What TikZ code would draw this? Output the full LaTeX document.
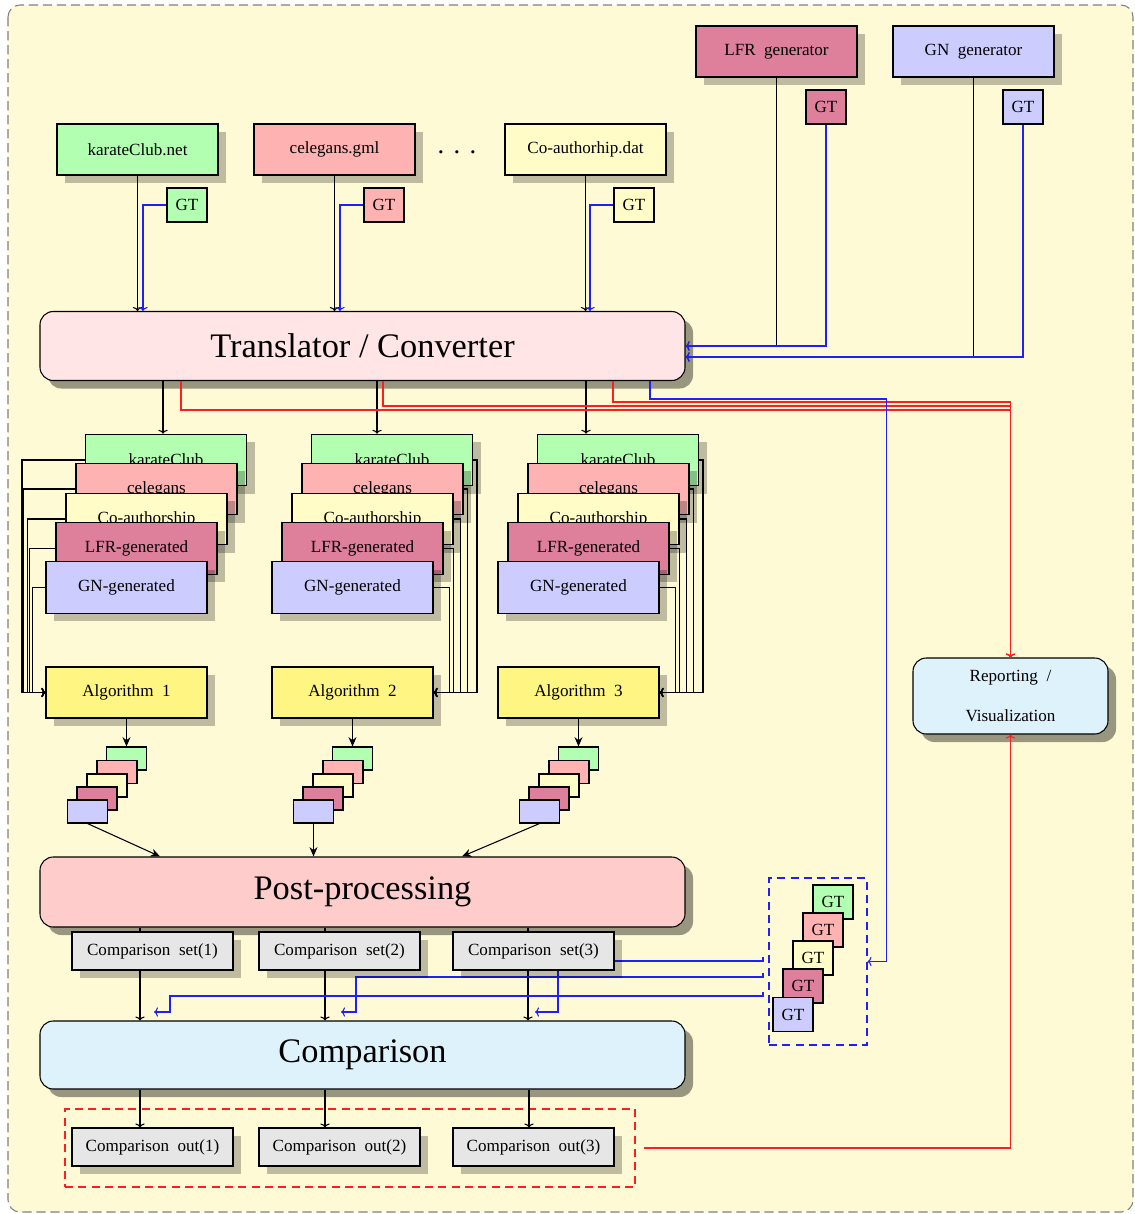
\documentclass[tikz,border=0pt]{standalone}
\usepackage{fontspec}
\setmainfont{Liberation Serif}
\usetikzlibrary{shadows,arrows.meta}
\definecolor{bgc}{RGB}{255,250,214}
\definecolor{cgreen}{RGB}{178,255,178}
\definecolor{cpink}{RGB}{255,178,178}
\definecolor{cyel}{RGB}{255,252,200}
\definecolor{cpurp}{RGB}{222,128,156}
\definecolor{cblue}{RGB}{204,204,255}
\definecolor{calg}{RGB}{255,245,130}
\definecolor{ctrans}{RGB}{255,229,229}
\definecolor{cpp}{RGB}{255,204,204}
\definecolor{ccmp}{RGB}{222,242,252}
\definecolor{cset}{RGB}{230,230,230}
\definecolor{lblue}{RGB}{30,30,255}
\definecolor{lred}{RGB}{255,30,30}
\newcommand\fsmall{\fontsize{12.8}{15}\selectfont}
\newcommand\fbig{\fontsize{25.8}{30}\selectfont}
\pgfdeclarelayer{back}
\pgfdeclarelayer{lines}
\pgfsetlayers{back,lines,main}
\tikzset{
  >={To[length=3pt,width=7pt]},
  box/.style={draw, line width=0.8pt, inner sep=0pt, font=\fsmall},
  shad/.style={drop shadow={shadow xshift=6pt, shadow yshift=-6pt, fill=black, opacity=0.25}},
  bigshad/.style={drop shadow={shadow xshift=6pt, shadow yshift=-6pt, fill=black, opacity=0.4}},
  srcbox/.style={box, shad, minimum width=120.75pt, minimum height=38.25pt},
  gtbox/.style={box, minimum width=30pt, minimum height=25.5pt},
  stackbox/.style={box, shad, minimum width=120.75pt, minimum height=38.6pt},
  resbox/.style={box, minimum width=30pt, minimum height=17.25pt},
  setbox/.style={box, shad, fill=cset, minimum width=120.75pt, minimum height=28.5pt},
  bigbox/.style={draw, line width=0.8pt, rounded corners=10pt, bigshad, inner sep=0pt,
     minimum width=483.75pt, minimum height=51pt, font=\fbig},
  conn/.style={line width=0.8pt},
  bl/.style={draw=lblue},
  rd/.style={draw=lred},
  algconn/.style={line width=1pt, ->},
  st/.style={-{Stealth[length=7pt,width=6pt]}},
}
\begin{document}
\begin{tikzpicture}[x=0.75pt, y=-0.75pt]
\useasboundingbox (0,0) rectangle (1135,1214);
\begin{pgfonlayer}{back}
\draw[gray, line width=0.8pt, dash pattern=on 7pt off 3.5pt, fill=bgc, rounded corners=9pt]
  (8,5) rectangle (1133,1212);
\end{pgfonlayer}

% sources
\node[srcbox, fill=cgreen] (karate) at (137.5,149.5) {karateClub.net};
\node[srcbox, fill=cpink] (celeg) at (334.5,149.5) {celegans.gml};
\node[font=\fontsize{20}{24}\selectfont] (dots) at (457,152) {.\hspace{7pt}.\hspace{7pt}.};
\node[srcbox, fill=cyel] (coauth) at (585.5,149.5) {Co-authorhip.dat};
\node[srcbox, fill=cpurp] (lfr) at (776.5,51.5) {LFR~~generator};
\node[srcbox, fill=cblue] (gn) at (973.5,51.5) {GN~~generator};
\node[gtbox, fill=cgreen] (gtk) at (187,205) {GT};
\node[gtbox, fill=cpink] (gtc) at (384,205) {GT};
\node[gtbox, fill=cyel] (gta) at (634,205) {GT};
\node[gtbox, fill=cpurp] (gtl) at (826,107) {GT};
\node[gtbox, fill=cblue] (gtg) at (1023,107) {GT};

% translator
\node[bigbox, fill=ctrans, minimum height=51.75pt] (tr) at (362.5,346) {Translator / Converter};

% stacks
\foreach \i/\dx in {1/0,2/226,3/452}{
  \node[stackbox, fill=cgreen] (k\i) at (166+\dx,460) {karateClub};
  \node[stackbox, fill=cpink] (c\i) at (156.5+\dx,489) {celegans};
  \node[stackbox, fill=cyel] (o\i) at (146.5+\dx,519) {Co-authorship};
  \node[stackbox, fill=cpurp] (l\i) at (136.5+\dx,548.5) {LFR-generated};
  \node[stackbox, fill=cblue] (g\i) at (126.5+\dx,587.5) {GN-generated};
  \node[stackbox, fill=calg, minimum height=38.25pt] (a\i) at (126.5+\dx,692.5) {Algorithm~~\i};
  \node[resbox, fill=cgreen] (rgr\i) at (126.5+\dx,758.5) {};
  \node[resbox, fill=cpink] (rpk\i) at (117+\dx,772) {};
  \node[resbox, fill=cyel] (ryl\i) at (107+\dx,785.5) {};
  \node[resbox, fill=cpurp] (rlf\i) at (97+\dx,798.5) {};
  \node[resbox, fill=cblue] (rgn\i) at (87.5+\dx,811.5) {};
  \draw[conn,st] (a\i.south) -- (rgr\i.north);
}

% post-processing and comparison
\node[bigbox, fill=cpp, minimum height=52.5pt] (pp) at (362.5,892) {Post-processing};
\node[setbox] (s1) at (152.5,951) {Comparison~~set(1)};
\node[setbox] (s2) at (339.5,951) {Comparison~~set(2)};
\node[setbox] (s3) at (533.5,951) {Comparison~~set(3)};
\node[bigbox, fill=ccmp] (cmp) at (362.5,1055) {Comparison};
\node[setbox] (out1) at (152.5,1147) {Comparison~~out(1)};
\node[setbox] (out2) at (339.5,1147) {Comparison~~out(2)};
\node[setbox] (out3) at (533.5,1147) {Comparison~~out(3)};
\node[draw=lred, line width=0.8pt, dash pattern=on 6pt off 4pt, minimum width=427.5pt,
  minimum height=58.5pt, inner sep=0pt] (redbox) at (350,1148) {};

% reporting
\node[draw, line width=0.8pt, rounded corners=10pt, bigshad, fill=ccmp, inner sep=0pt,
  minimum width=146.25pt, minimum height=57pt, align=center,
  font=\fontsize{12.8}{30}\selectfont] (rep) at (1010.5,696) {Reporting~~/\\Visualization};

% GT set
\node[draw=lblue, line width=0.8pt, dash pattern=on 6pt off 4pt, minimum width=73.5pt,
  minimum height=125.25pt, inner sep=0pt] (gtset) at (818,961.5) {};
\node[gtbox, fill=cgreen] (q1) at (833,902) {GT};
\node[gtbox, fill=cpink] (q2) at (823,930) {GT};
\node[gtbox, fill=cyel] (q3) at (813,958) {GT};
\node[gtbox, fill=cpurp] (q4) at (803,986) {GT};
\node[gtbox, fill=cblue] (q5) at (793,1014.5) {GT};

% sources to translator
\draw[conn,->] (karate.south) -- (karate.south |- tr.north);
\draw[conn,->] (celeg.south) -- (celeg.south |- tr.north);
\draw[conn,->] (coauth.south) -- (coauth.south |- tr.north);
\draw[conn,bl,->] (gtk.west) -| (tr.north -| 143,0);
\draw[conn,bl,->] (gtc.west) -| (tr.north -| 340,0);
\draw[conn,bl,->] (gta.west) -| (tr.north -| 590,0);
\draw[conn,->] (lfr.south) |- (tr.east |- 0,346);
\draw[conn,bl,->] (gtl.south) |- (tr.east |- 0,346);
\draw[conn,->] (gn.south) |- (tr.east |- 0,357);
\draw[conn,bl,->] (gtg.south) |- (tr.east |- 0,357);

% translator to stacks
\draw[conn,->] (tr.south -| 163,0) -- (k1.north -| 163,0);
\draw[conn,->] (tr.south -| 377,0) -- (k2.north -| 377,0);
\draw[conn,->] (tr.south -| 586,0) -- (k3.north -| 586,0);

% translator to reporting and GT set
\draw[conn,rd,->] (tr.south -| 181,0) -- (181,410) -| (rep.north);
\draw[conn,rd,->] (tr.south -| 383,0) -- (383,406) -| (rep.north);
\draw[conn,rd,->] (tr.south -| 613,0) -- (613,402) -| (rep.north);
\draw[conn,bl,->] (tr.south -| 650,0) -- (650,399) -| ([xshift=14.25pt]gtset.east) -- (gtset.east);

% stacks to algorithms
\draw[algconn] (k1.west) -- ++(-63,0) |- (a1.west);
\draw[algconn] (c1.west) -- ++(-52,0) |- (a1.west);
\draw[algconn] (o1.west) -- ++(-38,0) |- (a1.west);
\draw[algconn] (l1.west) -- ++(-26,0) |- (a1.west);
\draw[algconn] (g1.west) -- ++(-13,0) |- (a1.west);
\foreach \i in {2,3}{
  \draw[algconn] (k\i.east) -- ++(4,0) |- (a\i.east);
  \draw[algconn] (c\i.east) -- ++(4,0) |- (a\i.east);
  \draw[algconn] (o\i.east) -- ++(7,0) |- (a\i.east);
  \draw[algconn] (l\i.east) -- ++(10,0) |- (a\i.east);
  \draw[algconn] (g\i.east) -- ++(16,0) |- (a\i.east);
}

% results to post-processing
\draw[conn,st] (rgn1.south) -- (pp.north -| 160,0);
\draw[conn,st] (rgn2.south) -- (pp.north -| 313.5,0);
\draw[conn,st] (rgn3.south) -- (pp.north -| 462,0);

\begin{pgfonlayer}{lines}
\draw[conn,->] (pp.south -| 140,0) -- (cmp.north -| 140,0);
\draw[conn,->] (pp.south -| 325,0) -- (cmp.north -| 325,0);
\draw[conn,->] (pp.south -| 528,0) -- (cmp.north -| 528,0);
\draw[conn,bl,->] (763,957) -- (763,961) -| (558,1012) -- (535,1012);
\draw[conn,bl,->] (763,973) -- (763,977) -| (356,1012) -- (341,1012);
\draw[conn,bl,->] (763,992) -- (763,996) -| (170,1012) -- (154,1012);
\end{pgfonlayer}

% comparison to outputs
\draw[conn,->] (cmp.south -| 140,0) -- (out1.north -| 140,0);
\draw[conn,->] (cmp.south -| 325,0) -- (out2.north -| 325,0);
\draw[conn,->] (cmp.south -| 529,0) -- (out3.north -| 529,0);

% outputs to reporting
\draw[conn,rd,->] ([xshift=6pt]redbox.east) -| (rep.south);
\end{tikzpicture}
\end{document}
